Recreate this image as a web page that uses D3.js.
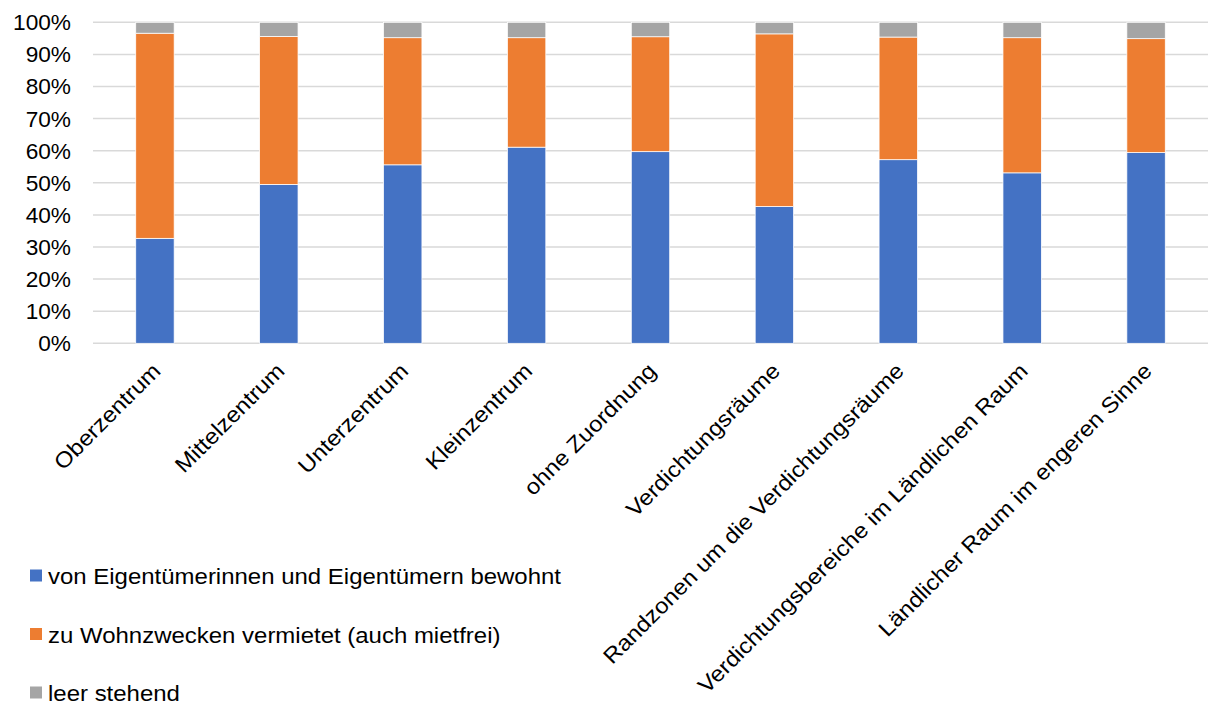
<!DOCTYPE html>
<html>
<head>
<meta charset="utf-8">
<script src="https://cdn.jsdelivr.net/npm/d3@7"></script>
<style>
  html, body { margin: 0; padding: 0; background: #fff; }
  text { font-family: "Liberation Sans", Arial, sans-serif; fill: #000; }
</style>
</head>
<body>
<div id="chart"></div>
<script>
const categories = [
  "Oberzentrum", "Mittelzentrum", "Unterzentrum", "Kleinzentrum", "ohne Zuordnung",
  "Verdichtungsräume", "Randzonen um die Verdichtungsräume",
  "Verdichtungsbereiche im Ländlichen Raum", "Ländlicher Raum im engeren Sinne"
];
const seriesNames = [
  "von Eigentümerinnen und Eigentümern bewohnt",
  "zu Wohnzwecken vermietet (auch mietfrei)",
  "leer stehend"
];
const owner  = [32.7, 49.5, 55.6, 61.1, 59.7, 42.6, 57.2, 53.1, 59.4];
const rented = [63.9, 46.1, 39.6, 34.1, 35.8, 53.8, 38.2, 42.1, 35.5];
const vacant = [3.4, 4.4, 4.8, 4.8, 4.5, 3.6, 4.6, 4.8, 5.1];
const yTicks = [0, 10, 20, 30, 40, 50, 60, 70, 80, 90, 100];
const colors = ["#4472C4", "#ED7D31", "#A5A5A5"];

const width = 1208, height = 704;
const plot = { left: 93, right: 1208, top: 22.3, bottom: 343.3 };
const stretch = 1.09; // text in the reference is a bit wider than Liberation Sans

const svg = d3.select("#chart")
  .append("svg")
  .attr("width", width)
  .attr("height", height);

const rows = categories.map((c, i) => ({
  cat: c, owner: owner[i], rented: rented[i], vacant: vacant[i]
}));
const keys = ["owner", "rented", "vacant"];
const stacked = d3.stack().keys(keys)(rows);

const x = d3.scaleBand()
  .domain(categories)
  .range([plot.left, plot.right])
  .paddingInner(0.69)
  .paddingOuter(0.345);

const y = d3.scaleLinear()
  .domain([0, 100])
  .range([plot.bottom, plot.top]);

// gridlines
svg.append("g")
  .selectAll("line")
  .data(yTicks)
  .join("line")
  .attr("x1", plot.left)
  .attr("x2", plot.right)
  .attr("y1", d => y(d))
  .attr("y2", d => y(d))
  .attr("stroke", "#d9d9d9")
  .attr("stroke-width", 1.5);

// y tick labels
svg.append("g")
  .selectAll("text")
  .data(yTicks)
  .join("text")
  .attr("transform", d => `translate(71,${y(d)}) scale(1.03,1)`)
  .attr("dy", "0.36em")
  .attr("text-anchor", "end")
  .attr("font-size", 22)
  .text(d => d + "%");

// bars
svg.append("g")
  .selectAll("g")
  .data(stacked)
  .join("g")
  .attr("fill", (d, i) => colors[i])
  .selectAll("rect")
  .data(d => d)
  .join("rect")
  .attr("x", d => x(d.data.cat))
  .attr("width", x.bandwidth())
  .attr("y", d => y(d[1]))
  .attr("height", d => y(d[0]) - y(d[1]))
  .attr("stroke", "#fff")
  .attr("stroke-width", 0.75);

// x labels
svg.append("g")
  .selectAll("text")
  .data(categories)
  .join("text")
  .attr("text-anchor", "end")
  .attr("font-size", 22)
  .attr("transform", d => `translate(${x(d) + x.bandwidth() / 2 + 7},${plot.bottom + 29}) rotate(-45) scale(${stretch},1)`)
  .text(d => d);

// legend
const legend = svg.append("g")
  .selectAll("g")
  .data(seriesNames)
  .join("g")
  .attr("transform", (d, i) => `translate(30,${569.5 + i * 58.5})`);

legend.append("rect")
  .attr("width", 12)
  .attr("height", 12)
  .attr("fill", (d, i) => colors[i]);

legend.append("text")
  .attr("transform", `translate(18,14.5) scale(${stretch},1)`)
  .attr("font-size", 22)
  .text(d => d);
</script>
</body>
</html>
